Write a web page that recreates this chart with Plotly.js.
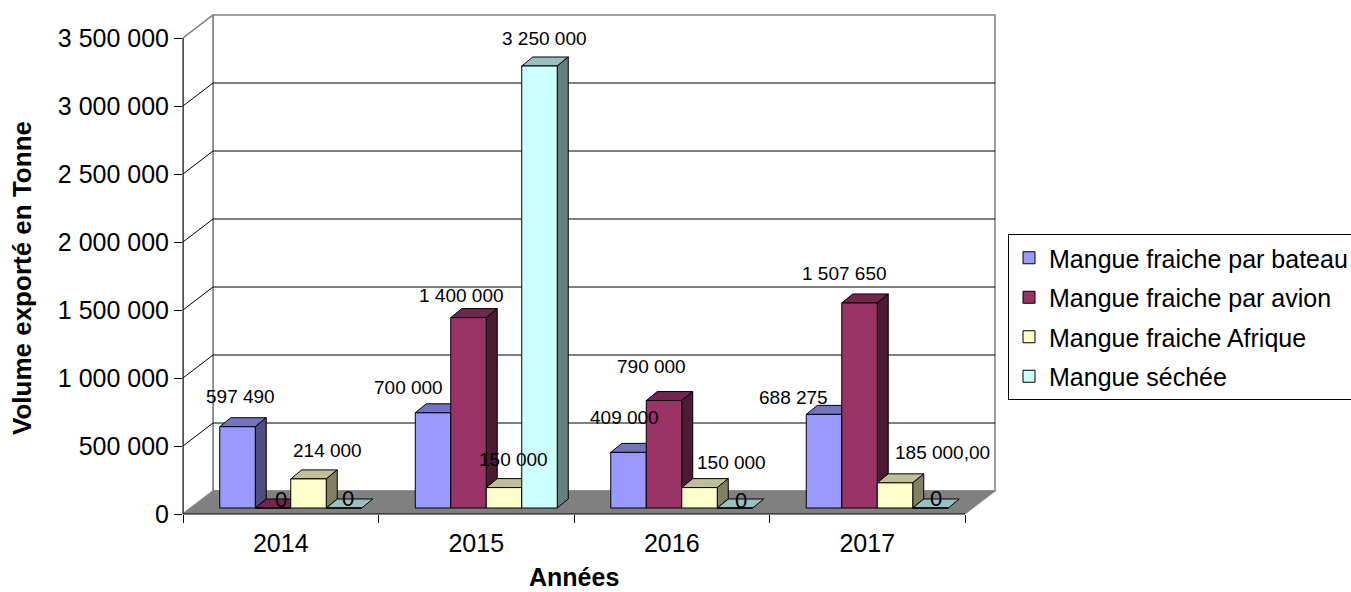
<!DOCTYPE html>
<html><head><meta charset="utf-8">
<script src="https://cdn.plot.ly/plotly-3.0.1.min.js"></script>
<style>html,body{margin:0;padding:0;background:#fff}#chart{width:1351px;height:592px}</style>
</head><body><div id="chart"></div>
<script>
// ---------- data ----------
const years = ['2014', '2015', '2016', '2017'];
const seriesNames = ['Mangue fraiche par bateau', 'Mangue fraiche par avion', 'Mangue fraiche Afrique', 'Mangue séchée'];
const bateau  = [597490, 700000, 409000, 688275];
const avion   = [0, 1400000, 790000, 1507650];
const afrique = [214000, 150000, 150000, 185000];
const sechee  = [0, 3250000, 0, 0];
const labelDecimals = [[0, 0, 0, 0], [0, 0, 0, 0], [0, 0, 0, 2], [0, 0, 0, 0]];
const yTicks = [0, 500000, 1000000, 1500000, 2000000, 2500000, 3000000, 3500000];
const yTitle = 'Volume exporté en Tonne';
const xTitle = 'Années';

// ---------- styles ----------
const frontColors = ['#9999FF', '#993366', '#FFFFCC', '#CCFFFF'];
const topColors   = ['#7373BF', '#73264D', '#BFBF99', '#99BFBF'];
const sideColors  = ['#4D4D80', '#4D1A33', '#808066', '#668080'];
// label nudges in px (x right, y up) relative to bar front-top centre
const labelShiftX = [[2.5, -25, -4.5, -31], [8, -7.5, -13, -15], [18.5, 9, 32, 47], [4, 4.5, 6, 5]];
const labelShiftY = [[30.7, 25, 35, 16.4], [9, 22.6, 33.6, 29], [28, 28.6, 25, 30], [10, 27, 8, 10]];
const FONT = 'Liberation Sans, Arial, sans-serif';

// ---------- geometry ----------
const W = 1351, H = 592;
const plotL = 183, plotR = 998, plotT = 13, plotB = 514;
const catPx = 195.5;
const valPerPx = 3500000 / 476;
const toX = px => px / catPx;
const toY = px => px * valPerPx;
const xMin = -0.5, xMax = -0.5 + toX(plotR - plotL);
const yMax = toY(plotB - plotT);
const catMax = years.length - 0.5;
const yTop = yTicks[yTicks.length - 1];
const wallDX = toX(30), wallDY = toY(23);
const barDX = toX(11), barDY = toY(9);
const barBase = toY(6);
const barW = toX(35.5);
const groupLeft = toX(-61);
const values = [bateau, avion, afrique, sechee];

function fmt(v, dec) {
  const parts = v.toFixed(dec || 0).split('.');
  const intPart = parts[0].replace(/\B(?=(\d{3})+(?!\d))/g, ' ');
  return parts.length > 1 ? intPart + ',' + parts[1] : intPart;
}

function poly(pts, fill, line, lw) {
  return {type: 'path', xref: 'x', yref: 'y', layer: 'below',
    path: 'M' + pts.map(p => p[0] + ',' + p[1]).join('L') + 'Z',
    fillcolor: fill, line: {color: line, width: lw}};
}
function seg(x0, y0, x1, y1, color, w) {
  return {type: 'line', xref: 'x', yref: 'y', layer: 'below', x0, y0, x1, y1, line: {color, width: w}};
}

const shapes = [];
// back wall
shapes.push(poly([[xMin + wallDX, wallDY], [catMax + wallDX, wallDY], [catMax + wallDX, yTop + wallDY], [xMin + wallDX, yTop + wallDY]], '#FFFFFF', '#808080', 1.5));
// side wall
shapes.push(poly([[xMin, 0], [xMin + wallDX, wallDY], [xMin + wallDX, yTop + wallDY], [xMin, yTop]], '#FFFFFF', '#808080', 1.5));
// gridlines
yTicks.forEach(v => {
  if (v > 0 && v < yTop) {
    shapes.push(seg(xMin + wallDX, v + wallDY, catMax + wallDX, v + wallDY, '#000000', 1));
  }
  if (v > 0) shapes.push(seg(xMin, v, xMin + wallDX, v + wallDY, v < yTop ? '#000000' : '#808080', 1));
});
// floor
shapes.push(poly([[xMin, 0], [catMax, 0], [catMax + wallDX, wallDY], [xMin + wallDX, wallDY]], '#808080', '#808080', 1));

// bar top / side faces
years.forEach((y, c) => {
  values.forEach((arr, i) => {
    const v = arr[c];
    const L = c + groupLeft + i * barW, R = L + barW, top = barBase + v;
    shapes.push(poly([[L, top], [R, top], [R + barDX, top + barDY], [L + barDX, top + barDY]], topColors[i], '#000000', 1));
    if (v > 0) shapes.push(poly([[R, barBase], [R, top], [R + barDX, top + barDY], [R + barDX, barBase + barDY]], sideColors[i], '#000000', 1));
  });
});

// front axis lines
shapes.push({type: 'line', xref: 'paper', yref: 'y', layer: 'above', x0: plotL / W, x1: plotL / W, y0: 0, y1: yTop, line: {color: '#000', width: 1}});
shapes.push({type: 'line', xref: 'x', yref: 'paper', layer: 'above', x0: xMin, x1: catMax, y0: 1 - plotB / H, y1: 1 - plotB / H, line: {color: '#000', width: 1}});

// traces (front faces)
const traces = values.map((arr, i) => ({
  type: 'bar', name: seriesNames[i], x: years, y: arr, base: barBase,
  offset: groupLeft + i * barW, width: barW,
  marker: {color: frontColors[i], line: {color: '#000000', width: 1}},
  legendgroup: 'g' + i, hoverinfo: 'skip', cliponaxis: false
}));

// data labels
const annotations = [];
values.forEach((arr, i) => {
  arr.forEach((v, c) => {
    annotations.push({
      xref: 'x', yref: 'y', x: c + groupLeft + i * barW + barW / 2, y: barBase + v,
      text: fmt(v, labelDecimals[i][c]), showarrow: false,
      xanchor: 'center', yanchor: 'middle',
      xshift: labelShiftX[i][c], yshift: labelShiftY[i][c],
      font: {family: FONT, size: v === 0 ? 22 : 19, color: '#000'}
    });
  });
});
annotations.push({xref: 'paper', yref: 'paper', x: 22 / W, y: 1 - 278 / H, text: '<b>' + yTitle + '</b>', textangle: -90,
  showarrow: false, xanchor: 'center', yanchor: 'middle', font: {family: FONT, size: 26, color: '#000'}});
annotations.push({xref: 'paper', yref: 'paper', x: 574 / W, y: 1 - 577 / H, text: '<b>' + xTitle + '</b>',
  showarrow: false, xanchor: 'center', yanchor: 'middle', font: {family: FONT, size: 25, color: '#000'}});

const layout = {
  width: W, height: H,
  margin: {l: 0, r: 0, t: 0, b: 0, pad: 0, autoexpand: false},
  paper_bgcolor: '#FFFFFF', plot_bgcolor: '#FFFFFF',
  font: {family: FONT, size: 25, color: '#000'},
  barmode: 'overlay',
  showlegend: true,
  xaxis: {type: 'category', domain: [plotL / W, plotR / W], range: [xMin, xMax],
    tickson: 'boundaries', ticks: 'outside', ticklen: 8, tickcolor: '#000', tickwidth: 1,
    ticklabelstandoff: 12,
    showgrid: false, showline: false, zeroline: false, fixedrange: true,
    tickfont: {family: FONT, size: 25, color: '#000'}},
  yaxis: {domain: [1 - plotB / H, 1 - plotT / H], range: [0, yMax],
    tickvals: yTicks, ticktext: yTicks.map(v => fmt(v, 0)),
    ticks: 'outside', ticklen: 8, tickcolor: '#000', tickwidth: 1,
    showgrid: false, showline: false, zeroline: false, fixedrange: true,
    tickfont: {family: FONT, size: 25, color: '#000'}},
  legend: {x: 1008 / W, y: 1 - 234 / H, xanchor: 'left', yanchor: 'top',
    bordercolor: '#000', borderwidth: 1, bgcolor: '#FFFFFF',
    traceorder: 'grouped', tracegroupgap: 4,
    font: {family: FONT, size: 25, color: '#000'}},
  shapes: shapes,
  annotations: annotations
};

Plotly.newPlot('chart', traces, layout, {staticPlot: true, displayModeBar: false});
</script>
</body></html>
